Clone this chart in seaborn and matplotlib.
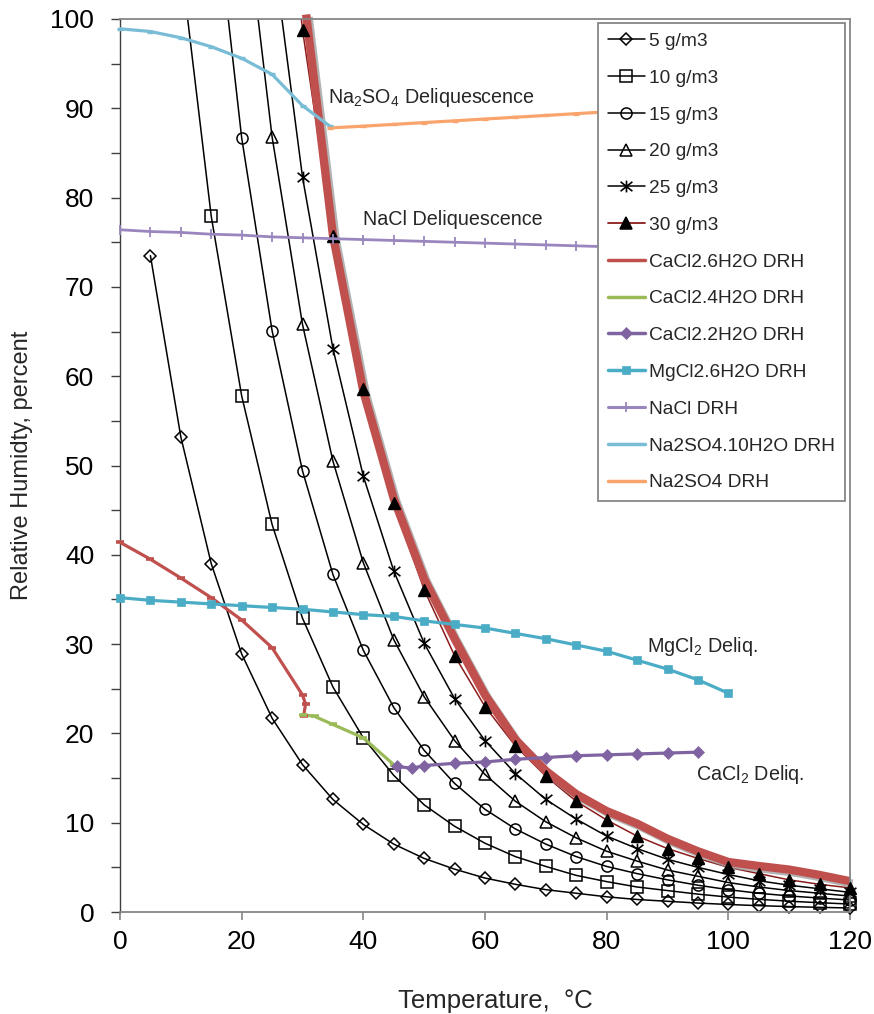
import matplotlib
matplotlib.use("Agg")
import matplotlib.pyplot as plt
import matplotlib.patheffects as pe
from matplotlib.lines import Line2D
from matplotlib.path import Path
import pandas as pd
import seaborn as sns

# ---------------- data ----------------
temps = [0, 5, 10, 15, 20, 25, 30, 35, 40, 45, 50, 55, 60, 65, 70, 75, 80,
         85, 90, 95, 100, 105, 110, 115, 120]

rh_5 = [73.5, 53.2, 39.0, 28.9, 21.7, 16.5, 12.6, 9.8, 7.6, 6.0, 4.8, 3.8,
        3.1, 2.5, 2.1, 1.7, 1.4, 1.2, 1.0, 0.84, 0.71, 0.61, 0.52, 0.45]
rh_10 = [106.4, 77.9, 57.8, 43.4, 32.9, 25.2, 19.5, 15.3, 12.0, 9.6, 7.7, 6.2,
         5.1, 4.1, 3.4, 2.8, 2.4, 2.0, 1.67, 1.42, 1.21, 1.04, 0.89]
rh_15 = [116.9, 86.7, 65.1, 49.4, 37.8, 29.3, 22.9, 18.1, 14.4, 11.5, 9.3, 7.6,
         6.2, 5.1, 4.3, 3.6, 3.0, 2.5, 2.1, 1.8, 1.56, 1.34]
rh_20 = [115.6, 86.8, 65.8, 50.5, 39.1, 30.5, 24.1, 19.2, 15.4, 12.4, 10.1, 8.3,
         6.8, 5.7, 4.7, 4.0, 3.3, 2.8, 2.4, 2.1, 1.78]
rh_25 = [108.5, 82.3, 63.1, 48.8, 38.2, 30.1, 23.9, 19.2, 15.5, 12.6, 10.4, 8.5,
         7.1, 5.9, 5.0, 4.2, 3.5, 3.0, 2.6, 2.2]
rh_30 = [130.1, 98.8, 75.7, 58.6, 45.8, 36.1, 28.7, 23.0, 18.6, 15.2, 12.4, 10.3,
         8.5, 7.1, 6.0, 5.0, 4.3, 3.6, 3.1, 2.7]

# hand-drawn boundary over the 30 g/m3 curve
bound_t = [30.6, 35, 40, 45, 50, 55, 60, 65, 70, 75, 80, 85, 90, 95, 100, 105,
           110, 115, 120]
bound_rh = [100.5, 75.8, 58.3, 46.3, 37.3, 30.6, 24.3, 19.3, 15.8, 13.2, 11.3,
            9.9, 8.2, 6.8, 5.6, 5.15, 4.75, 4.15, 3.45]

cacl2_6_t = [0, 5, 10, 15, 20, 25, 30, 30.5, 30.2]
cacl2_6_rh = [41.4, 39.5, 37.4, 35.2, 32.7, 29.6, 24.3, 23.3, 22.0]

cacl2_4_t = [30.1, 32, 35, 40, 45]
cacl2_4_rh = [22.1, 21.9, 21.0, 19.5, 16.5]

cacl2_2_t = [45.5, 48, 50, 55, 60, 65, 70, 75, 80, 85, 90, 95]
cacl2_2_rh = [16.3, 16.1, 16.4, 16.65, 16.8, 17.1, 17.3, 17.5, 17.6, 17.7, 17.8, 17.9]

mgcl2_t = [0, 5, 10, 15, 20, 25, 30, 35, 40, 45, 50, 55, 60, 65, 70, 75, 80,
           85, 90, 95, 100]
mgcl2_rh = [35.2, 34.9, 34.7, 34.5, 34.3, 34.1, 33.9, 33.6, 33.3, 33.1, 32.6,
            32.2, 31.8, 31.2, 30.6, 29.9, 29.2, 28.2, 27.2, 26.0, 24.5]

nacl_t = [0, 5, 10, 15, 20, 25, 30, 35, 40, 45, 50, 55, 60, 65, 70, 75, 80]
nacl_rh = [76.4, 76.2, 76.1, 75.9, 75.8, 75.6, 75.5, 75.4, 75.3, 75.2, 75.1,
           75.0, 74.9, 74.8, 74.7, 74.6, 74.5]

na2so4_10_t = [0, 5, 10, 15, 20, 25, 30, 34.5]
na2so4_10_rh = [98.9, 98.6, 97.9, 96.9, 95.6, 93.8, 90.3, 88.0]

na2so4_t = [34.5, 40, 45, 50, 55, 60, 65, 70, 75, 80]
na2so4_rh = [87.8, 88.0, 88.2, 88.4, 88.6, 88.8, 89.0, 89.2, 89.4, 89.6]

x_ticks = [0, 20, 40, 60, 80, 100, 120]
y_ticks = [0, 10, 20, 30, 40, 50, 60, 70, 80, 90, 100]
y_minor = [5, 15, 25, 35, 45, 55, 65, 75, 85, 95]

# ---------------- style ----------------
sns.set_theme(style="white")
plt.rcParams['font.family'] = ['Liberation Sans', 'DejaVu Sans']
plt.rcParams['mathtext.fontset'] = 'custom'
plt.rcParams['mathtext.rm'] = 'Liberation Sans'
plt.rcParams['mathtext.it'] = 'Liberation Sans:italic'
plt.rcParams['mathtext.bf'] = 'Liberation Sans:bold'

fig = plt.figure(figsize=(8.74, 10.14), dpi=100)
ax = fig.add_axes([120 / 874, 102 / 1014, 730 / 874, 893 / 1014])

star = Path([(-1, -0.8), (1, 0.8), (-1, 0.8), (1, -0.8), (0, -1), (0, 1)],
            [Path.MOVETO, Path.LINETO, Path.MOVETO, Path.LINETO, Path.MOVETO, Path.LINETO])


def draw(t, rh, color, lw, marker, ms, mfc, mec, mew, zl, zm, mark_clip=False):
    df = pd.DataFrame({'T': t, 'RH': rh})
    sns.lineplot(data=df, x='T', y='RH', color=color, linewidth=lw, sort=False,
                 estimator=None, ax=ax, zorder=zl, legend=False)
    if marker is not None:
        inside = df[df.RH <= 100]
        sns.lineplot(data=inside, x='T', y='RH', linestyle='', marker=marker,
                     markersize=ms, markerfacecolor=mfc, markeredgecolor=mec,
                     markeredgewidth=mew, sort=False, estimator=None, ax=ax,
                     zorder=zm, clip_on=mark_clip, legend=False, color=color)


BLK = 'black'
draw(temps[1:], rh_5, BLK, 1.1, 'D', 6, 'none', BLK, 1.1, 2, 2.1)
draw(temps[2:], rh_10, BLK, 1.1, 's', 8, 'none', BLK, 1.1, 2, 2.1)
draw(temps[3:], rh_15, BLK, 1.1, 'o', 8, 'none', BLK, 1.1, 2, 2.1)
draw(temps[4:], rh_20, BLK, 1.1, '^', 8.5, 'none', BLK, 1.1, 2, 2.1)
draw(temps[5:], rh_25, BLK, 1.1, star, 8.5, 'none', BLK, 1.2, 2, 2.1)
draw(temps[5:], rh_30, '#8B1C1C', 1.1, None, 0, None, None, 0, 2, 2.1)

# thick boundary with shadow
bdf = pd.DataFrame({'T': bound_t, 'RH': bound_rh})
sns.lineplot(data=bdf, x='T', y='RH', color='#C0504D', linewidth=6.0, sort=False,
             estimator=None, ax=ax, zorder=2.5, legend=False, clip_on=False,
             solid_capstyle='butt',
             path_effects=[pe.SimpleLineShadow(offset=(1.8, -1.8), shadow_color='#9a9a9a',
                                               alpha=0.75, rho=1.0), pe.Normal()])

# 30 g/m3 markers on top
df30 = pd.DataFrame({'T': temps[5:], 'RH': rh_30})
sns.lineplot(data=df30[df30.RH <= 100], x='T', y='RH', linestyle='', marker='^',
             markersize=8.5, markerfacecolor=BLK, markeredgecolor=BLK,
             markeredgewidth=1, sort=False, estimator=None, ax=ax, zorder=2.7,
             clip_on=False, legend=False, color=BLK)

# DRH lines
C_RED, C_GRN, C_PUR, C_AQU = '#C0504D', '#9BBB59', '#8064A2', '#4BACC6'
C_NACL, C_NSO10, C_NSO = '#9A86BE', '#79BCD6', '#F8A46C'
draw(cacl2_6_t, cacl2_6_rh, C_RED, 2.3, '_', 6, C_RED, C_RED, 2.6, 3, 3.1)
draw(cacl2_4_t, cacl2_4_rh, C_GRN, 2.3, '_', 6, C_GRN, C_GRN, 2.6, 3, 3.1)
draw(cacl2_2_t, cacl2_2_rh, C_PUR, 2.3, 'D', 6.5, C_PUR, C_PUR, 0.5, 3, 3.1)
draw(mgcl2_t, mgcl2_rh, C_AQU, 2.3, 's', 5.5, C_AQU, C_AQU, 0.5, 3, 3.1)
draw(nacl_t, nacl_rh, C_NACL, 2.0, '|', 7, C_NACL, C_NACL, 1.3, 3, 3.1)
draw(na2so4_10_t, na2so4_10_rh, C_NSO10, 2.3, '_', 5, C_NSO10, C_NSO10, 2.4, 3, 3.1)
draw(na2so4_t, na2so4_rh, C_NSO, 2.3, '_', 5, C_NSO, C_NSO, 2.4, 3, 3.1)

# ---------------- axes ----------------
ax.set_xlim(0, 120)
ax.set_ylim(0, 100)
ax.set_xticks(x_ticks)
ax.set_yticks(y_ticks)
ax.set_yticks(y_minor, minor=True)
ax.set_xlabel('')
ax.set_ylabel('')
ax.tick_params(axis='y', which='both', direction='out', length=6.5, width=1.0,
               color='#404040', left=True, labelsize=19, pad=12, labelcolor='black')
ax.tick_params(axis='x', which='major', direction='out', length=6, width=1.2,
               color='#868686', bottom=True, labelsize=19, pad=7, labelcolor='black')
for side in ['top', 'right', 'bottom']:
    ax.spines[side].set_color('#868686')
    ax.spines[side].set_linewidth(1.3)
ax.spines['left'].set_color('#404040')
ax.spines['left'].set_linewidth(1.0)

fig.text(495 / 874, 1 - 1008 / 1014, 'Temperature,  \u00b0C', ha='center',
         va='baseline', fontsize=18.5)
fig.text(22 / 874, 1 - 465 / 1014, 'Relative Humidty, percent', ha='center',
         va='center', rotation=90, fontsize=17)

# annotations
ax.text(34.2, 90.6, 'Na$_2$SO$_4$ Deliquescence', fontsize=14.2, va='baseline', ha='left')
ax.text(39.9, 76.9, 'NaCl Deliquescence', fontsize=14.2, va='baseline', ha='left')
ax.text(86.6, 29.1, 'MgCl$_2$ Deliq.', fontsize=14.2, va='baseline', ha='left')
ax.text(94.7, 14.8, 'CaCl$_2$ Deliq.', fontsize=14.2, va='baseline', ha='left')

# ---------------- legend ----------------
def h(label, color, lw, marker=None, ms=0, mfc='none', mec=None, mew=1.1):
    return Line2D([], [], color=color, lw=lw, marker=marker, markersize=ms,
                  markerfacecolor=mfc, markeredgecolor=mec if mec else color,
                  markeredgewidth=mew, label=label)


handles = [
    h('5 g/m3', BLK, 1.1, 'D', 6, 'none', BLK),
    h('10 g/m3', BLK, 1.1, 's', 8, 'none', BLK),
    h('15 g/m3', BLK, 1.1, 'o', 8, 'none', BLK),
    h('20 g/m3', BLK, 1.1, '^', 8.5, 'none', BLK),
    h('25 g/m3', BLK, 1.1, star, 8.5, 'none', BLK, 1.2),
    h('30 g/m3', '#8B1C1C', 1.3, '^', 8.5, BLK, BLK),
    h('CaCl2.6H2O DRH', C_RED, 2.5),
    h('CaCl2.4H2O DRH', C_GRN, 2.5),
    h('CaCl2.2H2O DRH', C_PUR, 2.5, 'D', 6.5, C_PUR, C_PUR, 0.5),
    h('MgCl2.6H2O DRH', C_AQU, 2.5, 's', 5.5, C_AQU, C_AQU, 0.5),
    h('NaCl DRH', C_NACL, 2.2, '|', 7, C_NACL, C_NACL, 1.3),
    h('Na2SO4.10H2O DRH', C_NSO10, 2.5),
    h('Na2SO4 DRH', C_NSO, 2.5),
]
leg = ax.legend(handles=handles, loc='upper right', bbox_to_anchor=(725 / 730, 889 / 893),
                borderaxespad=0, frameon=True, fancybox=False, framealpha=1,
                edgecolor='#868686', fontsize=13.8, handlelength=1.93,
                handletextpad=0.25, labelspacing=1.01, borderpad=0.5, numpoints=1)
leg.get_frame().set_linewidth(1.3)
leg.set_zorder(10)

fig.savefig('out.png', dpi=100)
